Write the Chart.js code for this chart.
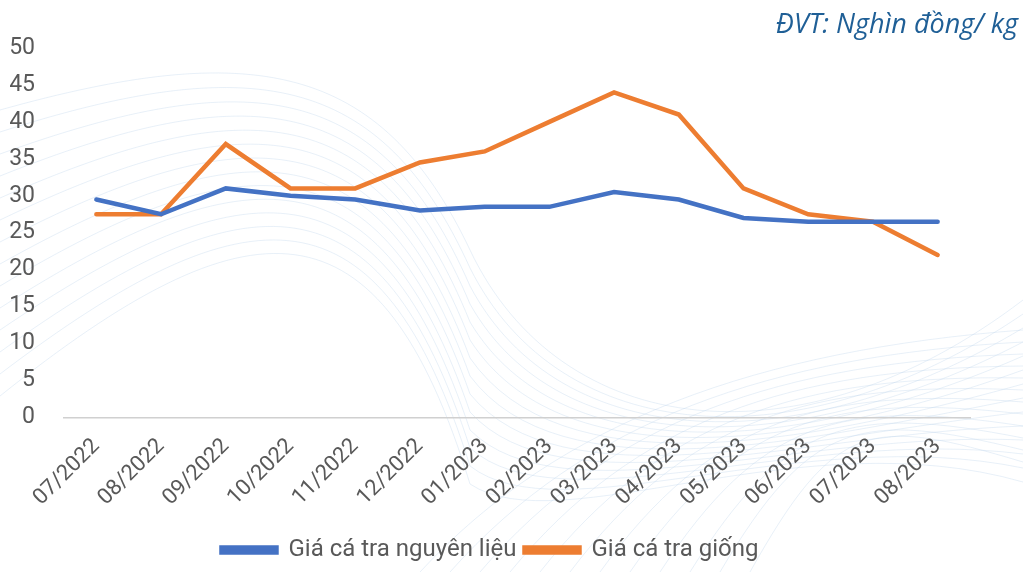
<!DOCTYPE html>
<html>
<head>
<meta charset="utf-8">
<script src="https://cdn.jsdelivr.net/npm/chart.js@4"></script>
<style>
  html, body { margin: 0; padding: 0; background: #fff; }
  #wrap { width: 1023px; height: 572px; position: relative; }
</style>
</head>
<body>
<div id="wrap"><canvas id="price-chart" width="1023" height="572"></canvas></div>
<script>
const months = ['07/2022', '08/2022', '09/2022', '10/2022', '11/2022', '12/2022', '01/2023',
  '02/2023', '03/2023', '04/2023', '05/2023', '06/2023', '07/2023', '08/2023'];
const rawFish = [29.5, 27.5, 31, 30, 29.5, 28, 28.5, 28.5, 30.5, 29.5, 27, 26.5, 26.5, 26.5];
const fingerlings = [27.5, 27.5, 37, 31, 31, 34.5, 36, 40, 44, 41, 31, 27.5, 26.5, 22];
const unitText = 'ĐVT: Nghìn đồng/ kg';

// faint wave lines in the background
const wavesBg = {
  id: 'wavesBg',
  beforeDraw(chart) {
    const c = chart.ctx;
    c.save();
    c.lineWidth = 1;
    c.strokeStyle = 'rgba(189, 212, 235, 0.35)';
    for (let i = 0; i < 14; i++) {
      c.beginPath();
      c.moveTo(0, 110 + i * 22);
      c.bezierCurveTo(250, 40 + i * 12, 380, 60 + i * 10, 470, 250 + i * 18);
      c.bezierCurveTo(560, 440 + i * 8, 800, 470 - i * 4, 1023, 300 + i * 14);
      c.stroke();
    }
    for (let i = 0; i < 12; i++) {
      c.beginPath();
      c.moveTo(420 + i * 30, 572);
      c.bezierCurveTo(560 + i * 25, 420, 760 + i * 10, 350 + i * 6, 1023, 330 + i * 12);
      c.stroke();
    }
    c.restore();
  }
};

// unit note, top right corner
const unitNote = {
  id: 'unitNote',
  afterDraw(chart) {
    const c = chart.ctx;
    c.save();
    c.font = 'italic 27px "Open Sans"';
    c.fillStyle = '#1F5F96';
    c.textAlign = 'right';
    c.textBaseline = 'middle';
    c.fillText(unitText, 1018, 25);
    c.restore();
  }
};

const chart = new Chart(document.getElementById('price-chart'), {
  type: 'line',
  data: {
    labels: months,
    datasets: [
      {
        label: 'Giá cá tra nguyên liệu',
        data: rawFish,
        borderColor: '#4472C4',
        backgroundColor: '#4472C4',
        borderWidth: 4.5,
        pointRadius: 0,
        borderCapStyle: 'round',
        tension: 0,
      },
      {
        label: 'Giá cá tra giống',
        data: fingerlings,
        borderColor: '#ED7D31',
        backgroundColor: '#ED7D31',
        borderWidth: 4.5,
        pointRadius: 0,
        borderCapStyle: 'round',
        tension: 0,
      }
    ]
  },
  options: {
    responsive: false,
    animation: false,
    layout: { padding: { left: 10, right: 53, top: 48, bottom: 0 } },
    plugins: {
      legend: {
        position: 'bottom',
        labels: {
          boxWidth: 55,
          boxHeight: 5,
          padding: 8,
          color: '#595959',
          font: { family: 'Roboto', size: 24 },
        }
      },
      tooltip: { enabled: false }
    },
    scales: {
      x: {
        offset: true,
        grid: { display: false, drawTicks: false },
        border: { display: true, color: '#D0D0D0', width: 1.5 },
        ticks: {
          color: '#595959',
          font: { family: 'Roboto', size: 22 },
          maxRotation: 45,
          minRotation: 45,
          padding: 16,
        },
        afterFit(scale) {
          scale.height += 3;
        }
      },
      y: {
        min: 0,
        max: 50,
        grid: { display: false, drawTicks: false },
        border: { display: false },
        ticks: {
          stepSize: 5,
          color: '#595959',
          font: { family: 'Roboto', size: 23 },
          padding: 29,
        },
        afterFit(scale) {
          // label width (~26) + padding
          scale.width = 54;
        }
      }
    }
  },
  plugins: [wavesBg, unitNote]
});
</script>
</body>
</html>
